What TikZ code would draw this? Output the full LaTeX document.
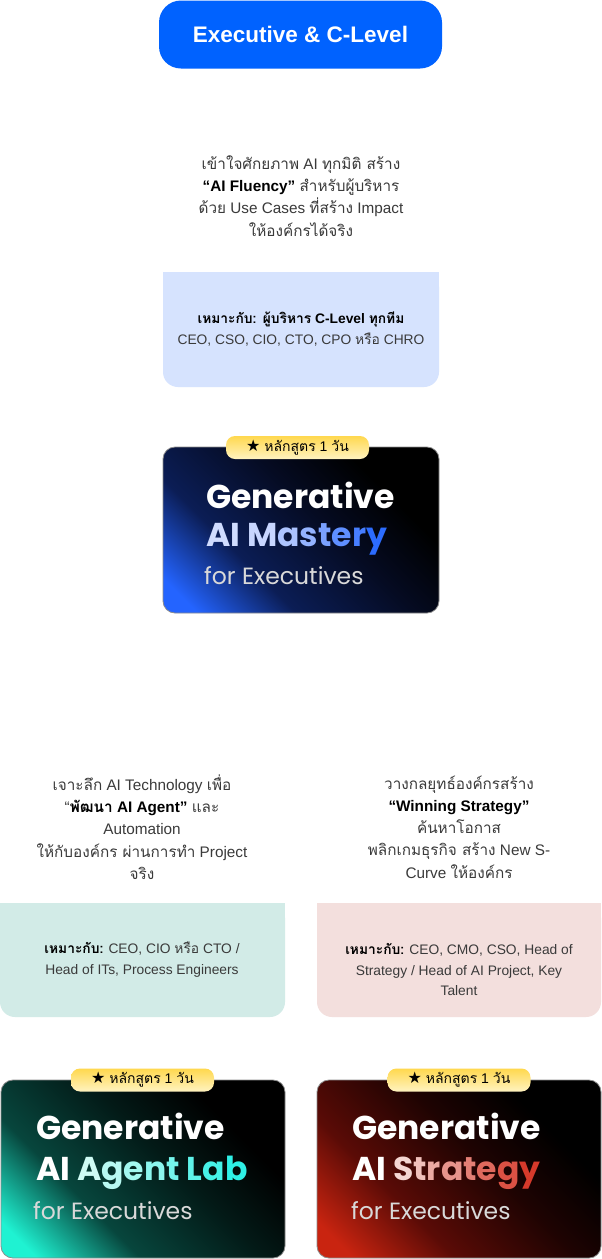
\documentclass[tikz,border=0pt]{standalone}
\usepackage{fontspec}
\setmainfont{Liberation Sans}
\newfontfamily\thaifont[Script=Thai]{Loma}
\newfontfamily\titlefont{Poppins}
\newfontfamily\symfont{DejaVu Sans}
\newcommand\tha[1]{{\thaifont #1}}
\usetikzlibrary{positioning}

\definecolor{execblue}{HTML}{0062FF}
\definecolor{bodygray}{HTML}{3A3A3A}
\definecolor{fitblue}{HTML}{D6E3FE}
\definecolor{fitteal}{HTML}{D2EBE7}
\definecolor{fitpink}{HTML}{F3DFDD}
\definecolor{badgetop}{HTML}{FFD84E}
\definecolor{badgebot}{HTML}{FFF3C0}
% card glows
\definecolor{glowblue}{HTML}{2464FF}
\definecolor{navyblue}{HTML}{0B1D55}
\definecolor{deepnavy}{HTML}{050B22}
\definecolor{glowteal}{HTML}{1FF2D2}
\definecolor{darkteal}{HTML}{07463D}
\definecolor{deepteal}{HTML}{031A17}
\definecolor{glowred}{HTML}{C92410}
\definecolor{darkred}{HTML}{5A0B06}
\definecolor{deepred}{HTML}{1E0302}
% title words
\definecolor{mastA}{HTML}{C8D6FF}
\definecolor{mastB}{HTML}{2C6CFF}
\definecolor{agentA}{HTML}{CFFBF4}
\definecolor{agentB}{HTML}{2EF0E6}
\definecolor{stratA}{HTML}{F4D6D2}
\definecolor{stratB}{HTML}{D63A2B}

\pgfdeclarehorizontalshading{cardblue}{100bp}{color(0bp)=(glowblue); color(20bp)=(glowblue); color(36bp)=(navyblue); color(55bp)=(deepnavy); color(70bp)=(black); color(100bp)=(black)}
\pgfdeclarehorizontalshading{cardteal}{100bp}{color(0bp)=(glowteal); color(20bp)=(glowteal); color(36bp)=(darkteal); color(55bp)=(deepteal); color(70bp)=(black); color(100bp)=(black)}
\pgfdeclarehorizontalshading{cardred}{100bp}{color(0bp)=(glowred); color(20bp)=(glowred); color(36bp)=(darkred); color(55bp)=(deepred); color(70bp)=(black); color(100bp)=(black)}

\begin{document}
\begin{tikzpicture}[x=1pt,y=-1pt,
    pill/.style={fill=execblue, rounded corners=22, minimum width=283, minimum height=68, text=white,
      font=\bfseries\fontsize{22.5}{22.5}\selectfont},
    body/.style={align=center, text=bodygray, font=\fontsize{15.3}{22.3}\selectfont},
    fittext/.style={align=center, text=bodygray, font=\fontsize{13.8}{20.5}\selectfont},
    cardframe/.style={rounded corners=12, draw=black!45, line width=0.8},
    badge/.style={rounded corners=9, minimum width=143, minimum height=23, inner sep=0,
      top color=badgetop, bottom color=badgebot, font=\fontsize{14}{14}\selectfont},
    gentitle/.style={anchor=base west, inner sep=0, text=white,
      font=\titlefont\bfseries\fontsize{33}{33}\selectfont},
    forexec/.style={anchor=base west, inner sep=0, text=white!85!black,
      font=\titlefont\fontsize{23.5}{23.5}\selectfont}]
  \useasboundingbox (0,0) rectangle (602,1259);
  \fill[white] (0,0) rectangle (602,1259);

  \node[pill] (exec) at (300.5,34.5) {Executive \& C-Level};

  % executive column
  \node[body] (fluency) at (301,196) {\tha{เข้าใจศักยภาพ} AI \tha{ทุกมิติ สร้าง}\\
    {\bfseries\color{black}“AI Fluency”} \tha{สำหรับผู้บริหาร}\\
    \tha{ด้วย} Use Cases \tha{ที่สร้าง} Impact\\
    \tha{ให้องค์กรได้จริง}};

  \fill[fitblue, rounded corners=15] (163,272) rectangle (439,387);
  \fill[fitblue] (163,272) rectangle (439,300);
  \node[fittext] (fitexec) at (301,329) {{\bfseries\color{black}\tha{เหมาะกับ: ผู้บริหาร} C-Level \tha{ทุกทีม}}\\
    CEO, CSO, CIO, CTO, CPO \tha{หรือ} CHRO};

  \shadedraw[cardframe, shading=cardblue, shading angle=45] (163,447) rectangle (439,613);
  \node[badge] (badge1) at (297.5,447.5) {{\symfont\fontsize{16}{16}\selectfont ★} \tha{หลักสูตร} 1 \tha{วัน}};
  \node[gentitle] (gen1) at (206,508) {Generative};
  \node[gentitle] (ai1) at (206,546) {\textcolor{mastA!85!white}{AI}
    \textcolor{mastA}{M}\textcolor{mastB!17!mastA}{a}\textcolor{mastB!33!mastA}{s}\textcolor{mastB!50!mastA}{t}\textcolor{mastB!67!mastA}{e}\textcolor{mastB!83!mastA}{r}\textcolor{mastB}{y}};
  \node[forexec] (for1) at (204,584) {for Executives};

  % agent column
  \node[body] (agent) at (142,827) {\tha{เจาะลึก} AI Technology \tha{เพื่อ}\\
    “{\bfseries\color{black}\tha{พัฒนา} AI Agent”} \tha{และ}\\
    Automation\\
    \tha{ให้กับองค์กร ผ่านการทำ} Project\\
    \tha{จริง}};

  \fill[fitteal, rounded corners=15] (0,903) rectangle (285,1017);
  \fill[fitteal] (0,903) rectangle (285,930);
  \node[fittext] (fitagent) at (142,959.5) {{\bfseries\color{black}\tha{เหมาะกับ:}} CEO, CIO \tha{หรือ} CTO /\\
    Head of ITs, Process Engineers};

  \shadedraw[cardframe, shading=cardteal, shading angle=45] (1,1080) rectangle (285,1258);
  \node[badge] (badge2) at (142.5,1080) {{\symfont\fontsize{16}{16}\selectfont ★} \tha{หลักสูตร} 1 \tha{วัน}};
  \node[gentitle] (gen2) at (36,1139) {Generative};
  \node[gentitle] (ai2) at (36,1180) {AI
    \textcolor{agentA}{A}\textcolor{agentB!14!agentA}{g}\textcolor{agentB!28!agentA}{e}\textcolor{agentB!42!agentA}{n}\textcolor{agentB!56!agentA}{t}
    \textcolor{agentB!70!agentA}{L}\textcolor{agentB!85!agentA}{a}\textcolor{agentB}{b}};
  \node[forexec] (for2) at (33,1219) {for Executives};

  % strategy column
  \node[body] (strategy) at (459,827) {\tha{วางกลยุทธ์องค์กรสร้าง}\\
    {\bfseries\color{black}“Winning Strategy”}\\
    \tha{ค้นหาโอกาส}\\
    \tha{พลิกเกมธุรกิจ สร้าง} New S-\\
    Curve \tha{ให้องค์กร}};

  \fill[fitpink, rounded corners=15] (317,903) rectangle (601,1017);
  \fill[fitpink] (317,903) rectangle (601,930);
  \node[fittext] (fitstrat) at (459,969.5) {{\bfseries\color{black}\tha{เหมาะกับ:}} CEO, CMO, CSO, Head of\\
    Strategy / Head of AI Project, Key\\
    Talent};

  \shadedraw[cardframe, shading=cardred, shading angle=45] (317,1080) rectangle (601,1258);
  \node[badge] (badge3) at (459,1080) {{\symfont\fontsize{16}{16}\selectfont ★} \tha{หลักสูตร} 1 \tha{วัน}};
  \node[gentitle] (gen3) at (352,1139) {Generative};
  \node[gentitle] (ai3) at (352,1180) {AI
    \textcolor{stratA}{S}\textcolor{stratB!14!stratA}{t}\textcolor{stratB!28!stratA}{r}\textcolor{stratB!42!stratA}{a}\textcolor{stratB!56!stratA}{t}\textcolor{stratB!70!stratA}{e}\textcolor{stratB!85!stratA}{g}\textcolor{stratB}{y}};
  \node[forexec] (for3) at (351,1219) {for Executives};
\end{tikzpicture}
\end{document}
